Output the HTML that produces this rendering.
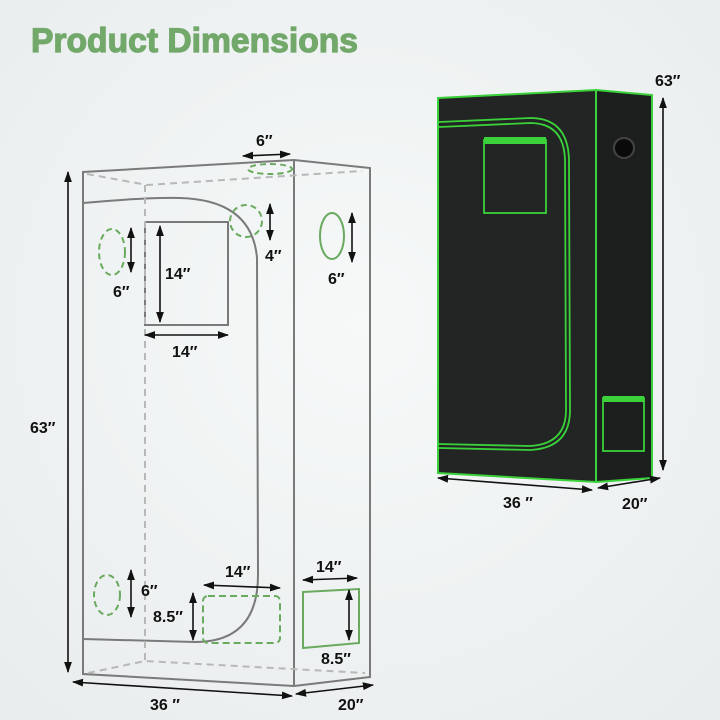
<!DOCTYPE html>
<html><head><meta charset="utf-8"><style>
html,body{margin:0;padding:0;width:720px;height:720px;overflow:hidden;background:#eef1f2}
svg{display:block}
text{font-family:"Liberation Sans",sans-serif;font-weight:bold}
</style></head><body>
<svg width="720" height="720" viewBox="0 0 720 720" xmlns="http://www.w3.org/2000/svg">
<defs>
<marker id="a" viewBox="0 0 10 10" refX="9" refY="5" markerWidth="7" markerHeight="7" orient="auto-start-reverse"><path d="M0,1.5 L10,5 L0,8.5 Z" fill="#111"/></marker>
<radialGradient id="bg" cx="0.5" cy="0.45" r="0.7"><stop offset="0" stop-color="#f7f9f9"/><stop offset="1" stop-color="#e9eded"/></radialGradient>
</defs>
<rect width="720" height="720" fill="url(#bg)"/>
<text x="31" y="52" font-size="34" fill="#72a86a" stroke="#72a86a" stroke-width="1.2" textLength="327" lengthAdjust="spacingAndGlyphs">Product Dimensions</text>

<!-- Left wireframe -->
<g fill="none" stroke="#7a7a7a" stroke-width="2">
<path d="M83,172 L294,160 L370,168 L370,677 L294,686 L83,674 Z"/>
<path d="M294,160 L294,686"/>
<path d="M83,203 Q150,197 180,198 Q252,200 257,258 L258,575 Q258,642 195,642 L83,639"/>
<rect x="145" y="222" width="83" height="103"/>
</g>
<g fill="none" stroke="#b8b8b8" stroke-width="2" stroke-dasharray="7,5">
<path d="M87,174 L147,185 L362,171"/>
<path d="M145,185 L145,660"/>
<path d="M88,673 L145,661 L365,673"/>
</g>
<g fill="none" stroke="#6aaa5e" stroke-width="2">
<ellipse cx="112" cy="252" rx="13" ry="23" stroke-dasharray="6,4"/>
<ellipse cx="270" cy="169" rx="22" ry="5" stroke-dasharray="6,4"/>
<circle cx="246" cy="221" r="16" stroke-dasharray="6,4"/>
<ellipse cx="332" cy="236" rx="12" ry="23"/>
<ellipse cx="107" cy="595" rx="13" ry="20" stroke-dasharray="6,4"/>
<rect x="203" y="596" width="77" height="47" rx="5" stroke-dasharray="7,4"/>
<path d="M303,592 L359,589 L359,643 L303,648 Z"/>
</g>
<g stroke="#111" stroke-width="1.6" marker-start="url(#a)" marker-end="url(#a)">
<line x1="68" y1="172" x2="68" y2="672"/>
<line x1="160" y1="226" x2="160" y2="322"/>
<line x1="145" y1="335" x2="228" y2="335"/>
<line x1="131" y1="228" x2="131" y2="272"/>
<line x1="243" y1="156" x2="290" y2="154"/>
<line x1="270" y1="204" x2="270" y2="240"/>
<line x1="352" y1="213" x2="352" y2="262"/>
<line x1="131" y1="570" x2="131" y2="617"/>
<line x1="204" y1="585" x2="280" y2="588"/>
<line x1="193" y1="593" x2="193" y2="640"/>
<line x1="303" y1="580" x2="357" y2="578"/>
<line x1="349" y1="590" x2="349" y2="640"/>
<line x1="73" y1="682" x2="292" y2="696"/>
<line x1="296" y1="694" x2="373" y2="685"/>
</g>
<g font-size="16" fill="#111">
<text x="256" y="146">6″</text>
<text x="165" y="279">14″</text>
<text x="172" y="357">14″</text>
<text x="113" y="297">6″</text>
<text x="265" y="261">4″</text>
<text x="328" y="284">6″</text>
<text x="30" y="433">63″</text>
<text x="141" y="596">6″</text>
<text x="225" y="577">14″</text>
<text x="153" y="622">8.5″</text>
<text x="316" y="572">14″</text>
<text x="321" y="664">8.5″</text>
<text x="150" y="710">36 ″</text>
<text x="338" y="710">20″</text>
</g>

<!-- Right photo tent -->
<path d="M596,90 L652,95 L652,478 L596,482 Z" fill="#1c1f1d" stroke="#3ad13a" stroke-width="2"/>
<path d="M438,98 L596,90 L596,482 L438,473 Z" fill="#232524" stroke="#3ad13a" stroke-width="2"/>
<g fill="none" stroke="#3ad13a" stroke-width="1.8">
<path d="M439,122 L530,118 Q568,118 569,160 L570,410 Q570,448 530,450 L439,448"/>
<path d="M439,127 L530,123 Q564,123 565,160 L566,410 Q566,444 530,446 L439,444"/>
<rect x="484" y="140" width="62" height="73"/>
<rect x="603" y="398" width="41" height="53"/>
</g>
<rect x="484" y="137" width="62" height="7" fill="#3ad13a"/>
<rect x="603" y="396" width="41" height="6" fill="#3ad13a"/>
<circle cx="624" cy="148" r="10" fill="#0a0a0a" stroke="#444" stroke-width="2"/>
<g stroke="#111" stroke-width="1.6" marker-start="url(#a)" marker-end="url(#a)">
<line x1="663" y1="98" x2="663" y2="470"/>
<line x1="438" y1="478" x2="592" y2="490"/>
<line x1="598" y1="488" x2="660" y2="478"/>
</g>
<g font-size="16" fill="#111">
<text x="655" y="86">63″</text>
<text x="503" y="508">36 ″</text>
<text x="622" y="509">20″</text>
</g>
</svg>
</body></html>
